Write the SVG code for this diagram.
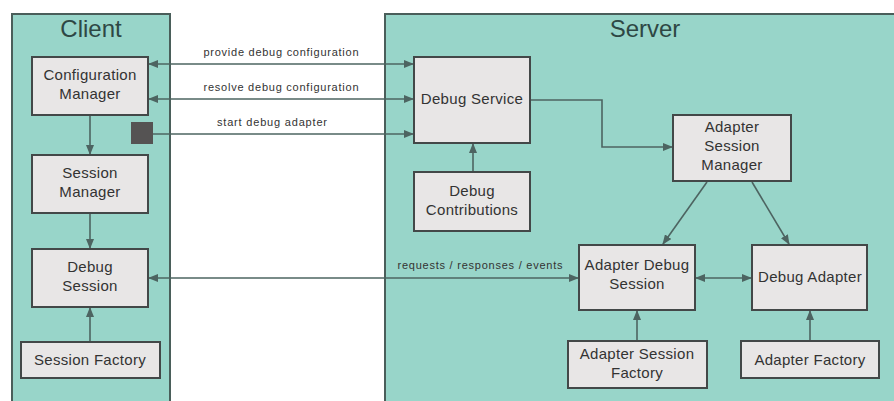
<svg xmlns="http://www.w3.org/2000/svg" width="894" height="401" viewBox="0 0 894 401">
<style>
.cont{fill:#98d5c9;stroke:#4a5e5a;stroke-width:2}
.box{fill:#e8e6e6;stroke:#434848;stroke-width:2}
.t{font-family:"Liberation Sans",Arial,sans-serif;font-size:15px;letter-spacing:0.3px;fill:#333;text-anchor:middle}
.title{font-family:"Liberation Sans",Arial,sans-serif;font-size:24px;fill:#2e4744;text-anchor:middle}
.lbl{font-family:"Liberation Sans",Arial,sans-serif;font-size:11px;fill:#333;text-anchor:middle}
.c{fill:none;stroke:#4d6461;stroke-width:1.6}
</style>
<defs>
<marker id="ah" markerWidth="10" markerHeight="8" refX="9" refY="4" orient="auto" markerUnits="userSpaceOnUse">
<path d="M0,0 L10,4 L0,8 Z" fill="#4d6461"/>
</marker>
<marker id="as" markerWidth="10" markerHeight="8" refX="1" refY="4" orient="auto" markerUnits="userSpaceOnUse">
<path d="M10,0 L0,4 L10,8 Z" fill="#4d6461"/>
</marker>
</defs>
<rect width="894" height="401" fill="#fff"/>
<g id="client">
<rect class="cont" x="12" y="14" width="158" height="400"/>
<text class="title" x="91" y="37">Client</text>
</g>
<g id="server">
<rect class="cont" x="385" y="14" width="520" height="400"/>
<text class="title" x="645" y="37">Server</text>
</g>
<g id="connectors">
<line class="c" x1="149" y1="64" x2="413" y2="64" marker-start="url(#as)" marker-end="url(#ah)"/>
<line class="c" x1="149" y1="99" x2="413" y2="99" marker-start="url(#as)" marker-end="url(#ah)"/>
<line class="c" x1="153" y1="134" x2="413" y2="134" marker-end="url(#ah)"/>
<line class="c" x1="149" y1="278" x2="578" y2="278" marker-start="url(#as)" marker-end="url(#ah)"/>
<line class="c" x1="90" y1="116" x2="90" y2="154" marker-end="url(#ah)"/>
<line class="c" x1="90" y1="214" x2="90" y2="248" marker-end="url(#ah)"/>
<line class="c" x1="90" y1="341" x2="90" y2="308" marker-end="url(#ah)"/>
<line class="c" x1="473" y1="171" x2="473" y2="144" marker-end="url(#ah)"/>
<polyline class="c" points="531,100 602,100 602,147 672,147" marker-end="url(#ah)"/>
<line class="c" x1="707" y1="182" x2="663" y2="244" marker-end="url(#ah)"/>
<line class="c" x1="752" y1="182" x2="789" y2="244" marker-end="url(#ah)"/>
<line class="c" x1="696" y1="278" x2="751" y2="278" marker-start="url(#as)" marker-end="url(#ah)"/>
<line class="c" x1="637" y1="340" x2="637" y2="311" marker-end="url(#ah)"/>
<line class="c" x1="810" y1="340" x2="810" y2="311" marker-end="url(#ah)"/>
<text class="lbl" x="281" y="56" textLength="155" lengthAdjust="spacing">provide debug configuration</text>
<text class="lbl" x="281" y="91" textLength="155" lengthAdjust="spacing">resolve debug configuration</text>
<text class="lbl" x="272" y="126" textLength="110" lengthAdjust="spacing">start debug adapter</text>
<text class="lbl" x="480" y="269" textLength="165" lengthAdjust="spacing">requests / responses / events</text>
</g>
<g id="config-manager">
<rect class="box" x="32" y="57" width="116" height="58"/>
<text class="t" x="90" y="80">Configuration</text>
<text class="t" x="90" y="99">Manager</text>
</g>
<g id="start-port">
<rect x="131" y="122" width="22" height="22" fill="#555353"/>
</g>
<g id="session-manager">
<rect class="box" x="32" y="155" width="116" height="58"/>
<text class="t" x="90" y="178">Session</text>
<text class="t" x="90" y="197">Manager</text>
</g>
<g id="debug-session">
<rect class="box" x="32" y="249" width="116" height="58"/>
<text class="t" x="90" y="272">Debug</text>
<text class="t" x="90" y="291">Session</text>
</g>
<g id="session-factory">
<rect class="box" x="21" y="342" width="139" height="36"/>
<text class="t" x="90" y="365">Session Factory</text>
</g>
<g id="debug-service">
<rect class="box" x="414" y="57" width="116" height="86"/>
<text class="t" x="472" y="104">Debug Service</text>
</g>
<g id="debug-contributions">
<rect class="box" x="414" y="172" width="116" height="59"/>
<text class="t" x="472" y="196">Debug</text>
<text class="t" x="472" y="215">Contributions</text>
</g>
<g id="adapter-session-manager">
<rect class="box" x="673" y="115" width="118" height="66"/>
<text class="t" x="732" y="132">Adapter</text>
<text class="t" x="732" y="151">Session</text>
<text class="t" x="732" y="170">Manager</text>
</g>
<g id="adapter-debug-session">
<rect class="box" x="579" y="245" width="116" height="65"/>
<text class="t" x="637" y="270">Adapter Debug</text>
<text class="t" x="637" y="289">Session</text>
</g>
<g id="debug-adapter">
<rect class="box" x="752" y="245" width="115" height="65"/>
<text class="t" x="810" y="282">Debug Adapter</text>
</g>
<g id="adapter-session-factory">
<rect class="box" x="568" y="341" width="139" height="47"/>
<text class="t" x="637" y="359">Adapter Session</text>
<text class="t" x="637" y="378">Factory</text>
</g>
<g id="adapter-factory">
<rect class="box" x="741" y="341" width="138" height="37"/>
<text class="t" x="810" y="365">Adapter Factory</text>
</g>
</svg>
